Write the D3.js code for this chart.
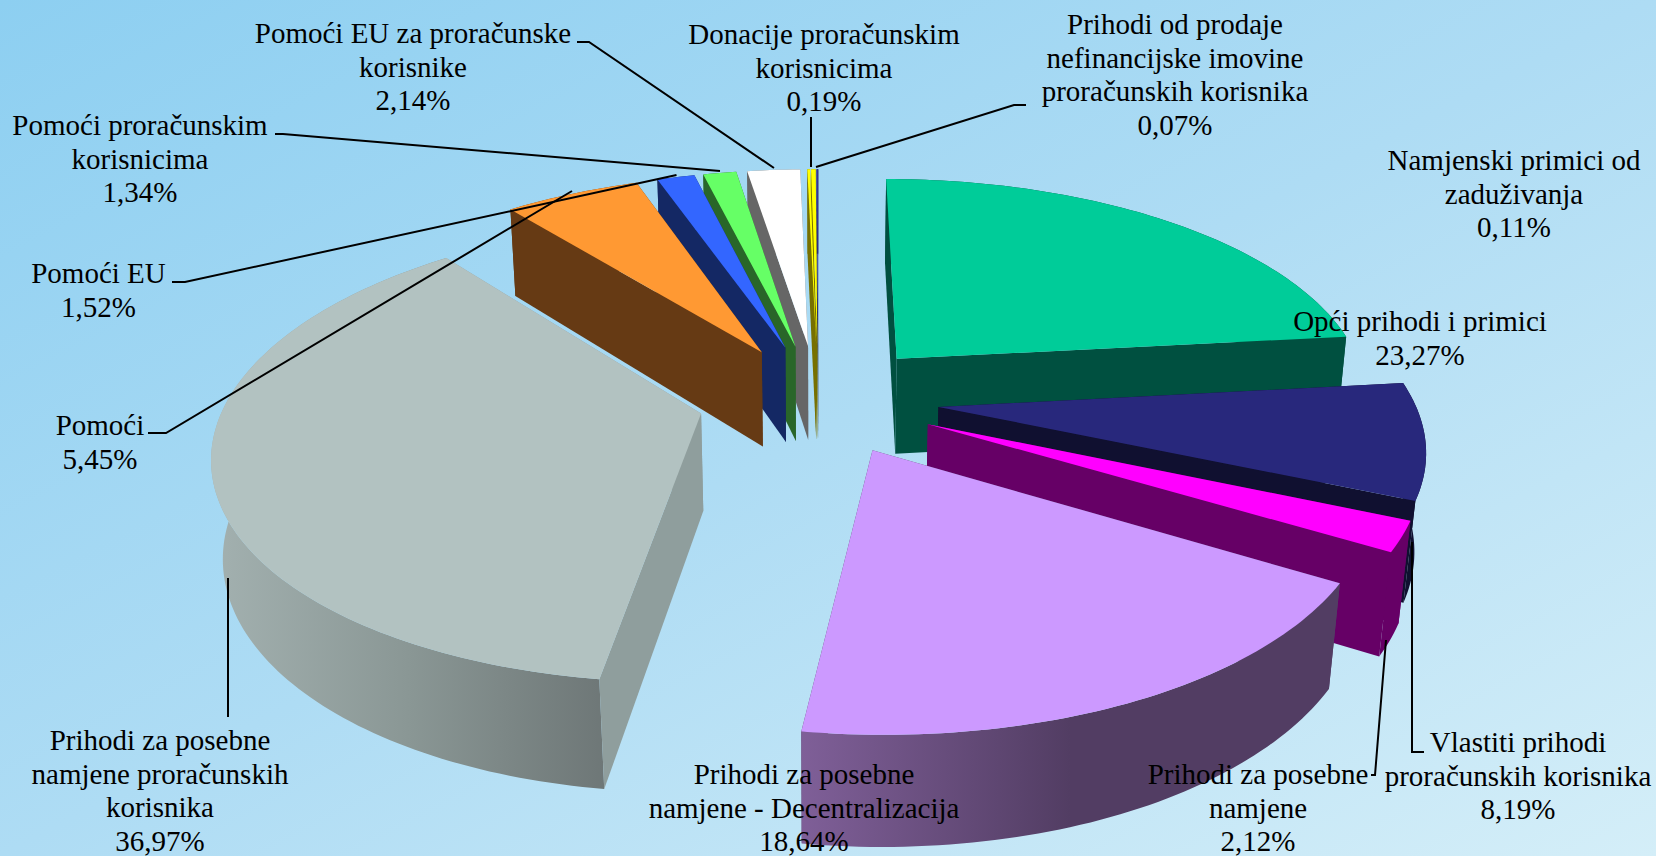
<!DOCTYPE html>
<html>
<head>
<meta charset="utf-8">
<script src="https://cdn.jsdelivr.net/npm/d3@7"></script>
<style>
  html, body { margin: 0; padding: 0; overflow: hidden; }
  svg { display: block; }
  text { font-family: "Liberation Serif", serif; font-size: 29px; fill: #000; }
</style>
</head>
<body>
<div id="chart"></div>
<script>
var categories = [
  ["Opći prihodi i primici"],
  ["Vlastiti prihodi", "proračunskih korisnika"],
  ["Prihodi za posebne", "namjene"],
  ["Prihodi za posebne", "namjene - Decentralizacija"],
  ["Prihodi za posebne", "namjene proračunskih", "korisnika"],
  ["Pomoći"],
  ["Pomoći EU"],
  ["Pomoći proračunskim", "korisnicima"],
  ["Pomoći EU za proračunske", "korisnike"],
  ["Namjenski primici od", "zaduživanja"],
  ["Donacije proračunskim", "korisnicima"],
  ["Prihodi od prodaje", "nefinancijske imovine", "proračunskih korisnika"]
];
var values = [23.27, 8.19, 2.12, 18.64, 36.97, 5.45, 1.52, 1.34, 2.14, 0.11, 0.19, 0.07];
var percentLabels = ["23,27%", "8,19%", "2,12%", "18,64%", "36,97%", "5,45%", "1,52%", "1,34%", "2,14%", "0,11%", "0,19%", "0,07%"];

var topColors = ["#00cc99", "#28287c", "#ff00ff", "#cc99ff", "#b2c2c1", "#ff9933", "#3366ff", "#66ff66", "#ffffff", "#ffff00", "#ffff00", "#333399"];
var sideColors = ["#005040", "#101030", "#660066", "#523f68", "#8f9e9d", "#663a14", "#142864", "#296629", "#666666", "#777000", "#777000", "#141440"];
// rim shading, left to right across the slice
var rimStops = [
  ["#005040", "#005040"], ["#101030", "#101030"], ["#660066", "#660066"],
  ["#7f5f98", "#523d63", "#523d63"], ["#a3b1b0", "#8a9795", "#6e7777"],
  ["#663a14", "#663a14"], ["#142864", "#142864"], ["#296629", "#296629"],
  ["#666666", "#666666"], ["#777000", "#777000"], ["#777000", "#777000"], ["#141440", "#141440"]
];

// label layout: centre x and first baseline
var labelPos = [
  [1420, 331], [1518, 752], [1258, 784], [804, 784], [160, 750], [100, 435],
  [98.5, 283], [140, 135], [413, 43], [1514, 170], [824, 44], [1175, 34]
];
var leaderPaths = [
  null,
  [[1412, 542], [1412, 752], [1424, 752]],
  [[1386, 640], [1375, 775], [1371, 775]],
  null,
  [[228, 578], [228, 717]],
  [[148, 433], [166, 433], [572, 191]],
  [[172, 282], [185, 282], [676.5, 175]],
  [[275, 134], [283, 134], [720, 171]],
  [[577, 42], [589, 42], [774, 168]],
  null,
  [[811, 117], [811, 167]],
  [[1026, 105], [1014, 105], [816, 167]]
];

var w = 1656, h = 856;
var cam = { cx: 818.5, cy: 398.7, f: 2676, tilt: 27.2 * Math.PI / 180, dist: 5.55 },
    explode = 0.25,
    radiusX = 0.985,
    depth = 0.23,
    lineHeight = 33.6;

function project(X, Y, Z) {
  var c = Math.cos(cam.tilt), s = Math.sin(cam.tilt),
      yc = Y * c - Z * s,
      zc = cam.dist - (Z * c + Y * s);
  return [cam.cx + cam.f * X / zc, cam.cy - cam.f * yc / zc];
}

var svg = d3.select("#chart").append("svg")
    .attr("width", w)
    .attr("height", h);

var defs = svg.append("defs");
var bg = defs.append("linearGradient")
    .attr("id", "bg")
    .attr("x1", 0).attr("y1", 0)
    .attr("x2", 1).attr("y2", 1);
bg.append("stop").attr("offset", "0%").attr("stop-color", "#8dcff1");
bg.append("stop").attr("offset", "50%").attr("stop-color", "#aedcf4");
bg.append("stop").attr("offset", "100%").attr("stop-color", "#d4eef8");

svg.append("rect")
    .attr("width", w)
    .attr("height", h)
    .attr("fill", "url(#bg)");

var pie = d3.pie().sort(null).value((d) => d);
var line = d3.line();
var arcs = pie(values);

arcs.forEach((d) => {
  var mid = (d.startAngle + d.endAngle) / 2;
  d.mid = mid;
  d.ox = explode * Math.sin(mid);
  d.oz = -explode * Math.cos(mid);
  var steps = Math.max(2, Math.ceil((d.endAngle - d.startAngle) / 0.02));
  var angle = d3.scaleLinear().domain([0, steps]).range([d.startAngle, d.endAngle]);
  d.rim = d3.range(steps + 1).map((i) => [d.ox + radiusX * Math.sin(angle(i)), d.oz - Math.cos(angle(i))]);
});

function face(points, Y) {
  return points.map((p) => project(p[0], Y, p[1]));
}

function wall(points) {
  // strip between the top plane and the bottom plane
  return face(points, 0).concat(face(points, -depth).reverse());
}

// back slices first
var order = arcs.slice().sort((a, b) => -Math.cos(a.mid) - -Math.cos(b.mid));
var pieG = svg.append("g");

order.forEach((d) => {
  var i = d.index,
      apex = [d.ox, d.oz],
      g = pieG.append("g"),
      xs = wall(d.rim).map((p) => p[0]);

  var grad = defs.append("linearGradient")
      .attr("id", "rim" + i)
      .attr("gradientUnits", "userSpaceOnUse")
      .attr("x1", d3.min(xs)).attr("y1", 0)
      .attr("x2", d3.max(xs)).attr("y2", 0);
  rimStops[i].forEach((c, k) => {
    grad.append("stop")
      .attr("offset", k / (rimStops[i].length - 1))
      .attr("stop-color", c);
  });

  var walls = [
    { pts: [apex, d.rim[0]], fill: sideColors[i] },
    { pts: [apex, d.rim[d.rim.length - 1]], fill: sideColors[i] },
    { pts: d.rim, fill: "url(#rim" + i + ")" }
  ];
  walls.forEach((f) => { f.z = d3.mean(f.pts, (p) => p[1]); });
  walls.sort((a, b) => a.z - b.z);

  g.selectAll("path.wall")
    .data(walls)
    .enter().append("path")
    .attr("class", "wall")
    .attr("d", (f) => line(wall(f.pts)) + "Z")
    .attr("fill", (f) => f.fill);

  g.append("path")
    .attr("d", line(face([apex].concat(d.rim), 0)) + "Z")
    .attr("fill", topColors[i]);
});

svg.append("g")
  .selectAll("path")
  .data(leaderPaths.filter((d) => d))
  .enter().append("path")
  .attr("d", line)
  .attr("fill", "none")
  .attr("stroke", "#000")
  .attr("stroke-width", 2);

var labelG = svg.append("g")
  .selectAll("text")
  .data(categories)
  .enter().append("text")
  .attr("text-anchor", "middle")
  .attr("transform", (d, i) => "translate(" + labelPos[i][0] + "," + labelPos[i][1] + ")");

labelG.selectAll("tspan")
  .data((d, i) => d.concat(percentLabels[i]))
  .enter().append("tspan")
  .attr("x", 0)
  .attr("y", (d, k) => k * lineHeight)
  .text((d) => d);
</script>
</body>
</html>
